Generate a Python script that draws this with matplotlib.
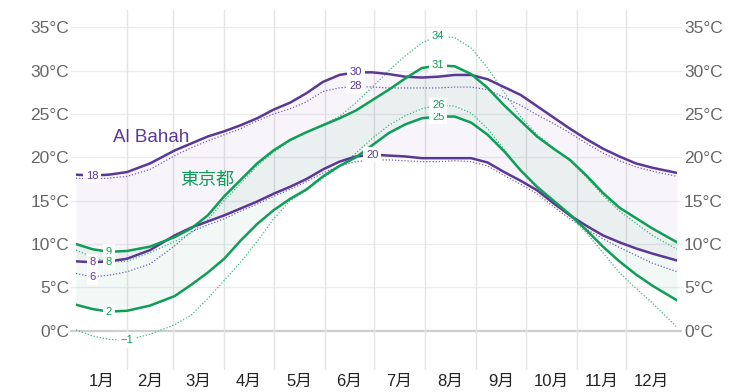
import matplotlib
matplotlib.use("Agg")
import matplotlib.pyplot as plt
import numpy as np

plt.rcParams['font.family'] = ['Liberation Sans', 'Noto Sans CJK JP', 'DejaVu Sans']

# ---- data (day of year, °C) ----
days = [0, 10, 20, 31, 45, 60, 70, 80, 90, 100, 110, 120, 130, 140, 150, 160, 170, 180,
        190, 200, 210, 220, 230, 240, 250, 260, 270, 280, 290, 300, 310, 320, 330, 340, 350, 365]

bahah_high = [18.0, 17.9, 18.0, 18.3, 19.3, 20.8, 21.6, 22.4, 23.0, 23.7, 24.5, 25.5, 26.3, 27.4,
              28.7, 29.5, 29.8, 29.8, 29.6, 29.3, 29.2, 29.3, 29.5, 29.5, 29.0, 28.1, 27.2, 25.9,
              24.6, 23.3, 22.1, 21.0, 20.1, 19.3, 18.8, 18.2]
bahah_high_feel = [17.6, 17.5, 17.6, 17.8, 18.6, 20.2, 21.1, 21.9, 22.6, 23.3, 24.2, 25.0, 25.6, 26.4,
                   27.6, 28.0, 28.2, 28.1, 28.0, 28.0, 28.0, 28.0, 28.1, 28.1, 27.8, 26.9, 26.0, 24.9,
                   23.9, 22.8, 21.6, 20.5, 19.6, 18.9, 18.4, 17.8]
bahah_low = [8.0, 7.9, 8.0, 8.3, 9.3, 11.0, 11.9, 12.6, 13.3, 14.1, 14.9, 15.8, 16.6, 17.5,
             18.6, 19.5, 20.1, 20.3, 20.2, 20.1, 19.9, 19.9, 19.9, 19.9, 19.4, 18.3, 17.3, 16.2,
             14.7, 13.3, 12.1, 11.0, 10.2, 9.5, 8.9, 8.1]
bahah_low_feel = [6.6, 6.2, 6.4, 6.8, 7.7, 9.8, 11.4, 12.2, 12.9, 13.8, 14.6, 15.5, 16.3, 17.2,
                  18.2, 19.0, 19.5, 19.7, 19.7, 19.6, 19.5, 19.5, 19.6, 19.5, 19.0, 17.9, 16.9, 15.8,
                  14.3, 12.9, 11.7, 10.6, 9.6, 8.7, 7.8, 6.8]

tokyo_high = [10.0, 9.4, 9.1, 9.2, 9.7, 10.8, 11.8, 13.3, 15.5, 17.4, 19.3, 20.8, 22.0, 22.9,
              23.7, 24.5, 25.4, 26.6, 27.8, 29.1, 30.3, 30.6, 30.5, 29.6, 28.0, 26.0, 24.2, 22.4,
              21.0, 19.7, 17.9, 15.9, 14.2, 13.0, 11.8, 10.2]
tokyo_high_feel = [9.3, 8.5, 7.9, 8.0, 9.0, 10.3, 11.3, 12.8, 15.0, 17.0, 19.0, 20.6, 21.9, 22.9,
                   23.8, 24.7, 26.3, 28.1, 30.0, 31.7, 33.2, 34.0, 33.8, 32.6, 30.3, 27.5, 24.7, 22.6,
                   21.1, 19.6, 17.7, 15.6, 13.8, 12.4, 11.0, 9.4]
tokyo_low = [3.0, 2.5, 2.2, 2.3, 2.9, 4.0, 5.3, 6.7, 8.3, 10.4, 12.3, 13.9, 15.2, 16.3,
             17.8, 19.0, 20.0, 21.4, 22.8, 23.8, 24.5, 24.7, 24.7, 24.0, 22.6, 20.7, 18.5, 16.6,
             15.0, 13.4, 11.6, 9.7, 8.0, 6.5, 5.2, 3.5]
tokyo_low_feel = [0.1, -0.6, -1.0, -1.1, -0.4, 0.7, 1.8, 3.7, 5.8, 7.9, 10.3, 12.9, 15.0, 16.2,
                  17.6, 18.9, 20.5, 22.2, 23.7, 24.8, 25.6, 26.0, 25.9, 25.1, 23.3, 20.9, 18.5, 16.4,
                  14.9, 13.2, 11.3, 9.0, 6.7, 4.9, 3.2, 0.4]

month_labels = ['1月', '2月', '3月', '4月', '5月', '6月', '7月', '8月', '9月', '10月', '11月', '12月']
month_days = [31, 28, 31, 30, 31, 30, 31, 31, 30, 31, 30, 31]
y_ticks = [0, 5, 10, 15, 20, 25, 30, 35]
city_names = ['Al Bahah', '東京都']

PURPLE = '#5b3895'
PURPLE_DOT = '#7b5db5'
GREEN = '#0f9d58'
GREEN_DOT = '#3dbb80'

fig = plt.figure(figsize=(7.53, 3.92), dpi=100)
ax = fig.add_axes([76/753, 22/392, 601/753, 360/392])
ax.set_xlim(0, 365)
ax.set_ylim(-4.53, 36.99)
for s in ax.spines.values():
    s.set_visible(False)

x = np.array(days)

# grid
for t in y_ticks:
    ax.axhline(t, xmin=-0.008, xmax=1.006, color='#cfcfcf' if t == 0 else '#ececec',
               lw=1.6 if t == 0 else 1.0, clip_on=False, zorder=0)
starts = np.cumsum([0] + month_days)
for s in starts[1:-1]:
    ax.axvline(s, color='#e4e4e4', lw=1.0, zorder=0)

# bands
ax.fill_between(x, bahah_low, bahah_high, color='#6a44b0', alpha=0.05, lw=0, zorder=1)
ax.fill_between(x, tokyo_low, tokyo_high, color='#1f8f5f', alpha=0.06, lw=0, zorder=1)

# lines
dot = (0, (1, 1.5))
ax.plot(x, bahah_high_feel, color=PURPLE_DOT, lw=0.9, ls=dot, zorder=2)
ax.plot(x, bahah_low_feel, color=PURPLE_DOT, lw=0.9, ls=dot, zorder=2)
ax.plot(x, tokyo_high_feel, color=GREEN_DOT, lw=0.9, ls=dot, zorder=2)
ax.plot(x, tokyo_low_feel, color=GREEN_DOT, lw=0.9, ls=dot, zorder=2)
ax.plot(x, bahah_high, color=PURPLE, lw=1.8, zorder=3, solid_joinstyle='round')
ax.plot(x, bahah_low, color=PURPLE, lw=1.8, zorder=3, solid_joinstyle='round')
ax.plot(x, tokyo_high, color=GREEN, lw=1.8, zorder=3, solid_joinstyle='round')
ax.plot(x, tokyo_low, color=GREEN, lw=1.8, zorder=3, solid_joinstyle='round')

# min / max labels
def mark(series, which, color):
    arr = np.array(series)
    i = int(np.argmax(arr)) if which == 'max' else int(np.argmin(arr))
    v = int(round(arr[i]))
    ax.text(x[i], arr[i], f"{v}".replace('-', '\u2212'), color=color, fontsize=8,
            ha='center', va='center', zorder=5,
            bbox=dict(boxstyle='square,pad=0.25', fc='white', ec='none'))

mark(bahah_high, 'min', PURPLE)
mark(bahah_high, 'max', PURPLE)
mark(bahah_high_feel, 'max', PURPLE)
mark(bahah_low, 'min', PURPLE)
mark(bahah_low, 'max', PURPLE)
mark(bahah_low_feel, 'min', PURPLE)
mark(tokyo_high, 'min', GREEN)
mark(tokyo_high, 'max', GREEN)
mark(tokyo_high_feel, 'min', GREEN)
mark(tokyo_high_feel, 'max', GREEN)
mark(tokyo_low, 'min', GREEN)
mark(tokyo_low, 'max', GREEN)
mark(tokyo_low_feel, 'min', GREEN)
mark(tokyo_low_feel, 'max', GREEN)

# city names
ax.text(45.5, 22.3, city_names[0], color=PURPLE, fontsize=13.5, ha='center', va='center', zorder=6)
ax.text(79.5, 17.3, city_names[1], color=GREEN, fontsize=13, ha='center', va='center', zorder=6)

# ticks
mids = [(starts[i] + starts[i + 1]) / 2 for i in range(12)]
ax.set_xticks(mids)
ax.set_xticklabels(month_labels, fontsize=12, color='#222222')
ax.tick_params(axis='x', length=0, pad=3)
ax.set_yticks(y_ticks)
ax.set_yticklabels([f"{t}°C" for t in y_ticks], fontsize=12.5, color='#666666')
ax.tick_params(axis='y', length=0, pad=5, labelright=True, right=False)

fig.savefig('out.png', dpi=100)
